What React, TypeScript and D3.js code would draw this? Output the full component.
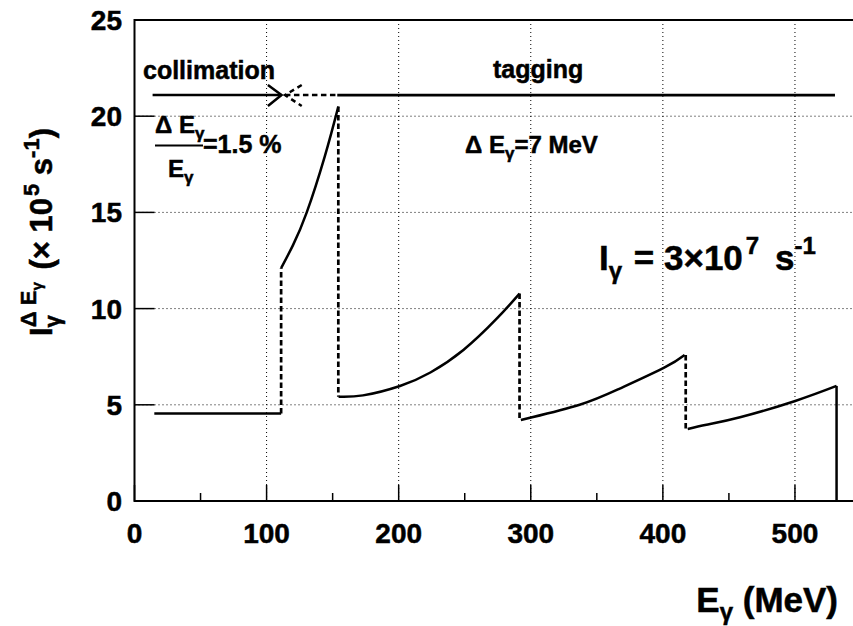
import React from 'react';
import * as d3 from 'd3';

// ---- data ----
const xTickValues = [0, 100, 200, 300, 400, 500];
const xMinorTickValues = [50, 150, 250, 350, 450];
const yTickValues = [0, 5, 10, 15, 20, 25];
const xGridValues = [100, 200, 300, 400, 500];
const yGridValues = [5, 10, 15, 20];

// collimation plateau
const flatE = [15, 111];
const flatI = [4.55, 4.55];
// tagged segments
const seg1E = [111, 120, 130.4, 144, 154.3];
const seg1I = [12.1, 13.3, 15.0, 17.9, 20.5];
const seg2E = [154.5, 173, 201, 224, 249, 274, 291.5];
const seg2I = [5.42, 5.49, 5.98, 6.68, 7.85, 9.46, 10.78];
const seg3E = [292.5, 301, 337, 367, 401, 416.5];
const seg3I = [4.21, 4.35, 5.0, 5.83, 6.93, 7.59];
const seg4E = [418.8, 433, 458.4, 500.2, 531.5];
const seg4I = [3.74, 3.96, 4.35, 5.2, 5.98];
// dashed vertical connectors
const dropE = [111, 154.3, 291.5, 417.3];
const dropFrom = [4.55, 20.5, 10.78, 7.59];
const dropTo = [12.1, 5.42, 4.21, 3.74];
// final solid drop
const endDropE = [531.5, 531.5];
const endDropI = [5.98, 0];

// collimation / tagging ranges
const tagLevel = 21.1;
const arrowE = [13.7, 111.3];
const arrowWingE = 101;
const wingHi = 21.62;
const wingLo = 20.53;
const revTipE = 113.9;
const revWingE = 126.6;
const dashedTagE = [113.9, 153.5];
const solidTagE = [153.5, 530.3];

const W = 853;
const H = 626;
const FONT = "'Liberation Sans', Arial, Helvetica, sans-serif";

export default function App() {
  const x = d3.scaleLinear().domain([0, 550]).range([134.5, 861]);
  const y = d3.scaleLinear().domain([0, 25]).range([501, 20]);
  const [x0, x1] = x.range();
  const [yB, yT] = y.range();

  const line = d3
    .line<[number, number]>()
    .x((d) => x(d[0]))
    .y((d) => y(d[1]))
    .curve(d3.curveNatural);
  const straight = d3
    .line<[number, number]>()
    .x((d) => x(d[0]))
    .y((d) => y(d[1]));

  const zip = (a: number[], b: number[]) => a.map((v, i) => [v, b[i]] as [number, number]);
  const segs = [zip(seg1E, seg1I), zip(seg2E, seg2I), zip(seg3E, seg3I), zip(seg4E, seg4I)];

  const dotted = '1 3';
  const dashed = '5.5 3';
  const txt = { stroke: '#000', strokeWidth: 0.5 };

  return (
    <svg
      width={W}
      height={H}
      style={{ position: 'absolute', left: 0, top: 0, background: '#fff' }}
      fontFamily={FONT}
      fontWeight="bold"
    >
      <rect x={0} y={0} width={W} height={H} fill="#fff" />
      {/* grid */}
      {xGridValues.map((v) => (
        <line key={'gx' + v} x1={x(v)} x2={x(v)} y1={yB} y2={yT} stroke="#000" strokeWidth={1} strokeDasharray={dotted} />
      ))}
      {yGridValues.map((v) => (
        <line key={'gy' + v} x1={x0} x2={x1} y1={y(v)} y2={y(v)} stroke="#000" strokeWidth={1} strokeDasharray={dotted} />
      ))}

      {/* frame */}
      <rect x={x0} y={yT} width={x1 - x0} height={yB - yT} fill="none" stroke="#000" strokeWidth={2} />

      {/* ticks */}
      {xTickValues.map((v) => (
        <line key={'tx' + v} x1={x(v)} x2={x(v)} y1={yB} y2={yB - 16} stroke="#000" strokeWidth={1.5} />
      ))}
      {xMinorTickValues.map((v) => (
        <line key={'mx' + v} x1={x(v)} x2={x(v)} y1={yB} y2={yB - 8} stroke="#000" strokeWidth={1.5} />
      ))}
      {yTickValues.map((v) => (
        <line key={'ty' + v} x1={x0} x2={x0 + 20} y1={y(v)} y2={y(v)} stroke="#000" strokeWidth={1.5} />
      ))}

      <g {...txt}>
        {/* tick labels */}
        {xTickValues.map((v) => (
          <text key={'lx' + v} x={x(v)} y={543} fontSize={28} textAnchor="middle">
            {v}
          </text>
        ))}
        {yTickValues.map((v) => (
          <text key={'ly' + v} x={122} y={y(v) + 10} fontSize={28} textAnchor="end">
            {v}
          </text>
        ))}
      </g>

      {/* flux curve */}
      <path d={straight(zip(flatE, flatI)) || ''} fill="none" stroke="#000" strokeWidth={2.5} />
      {segs.map((s, i) => (
        <path key={'s' + i} d={line(s) || ''} fill="none" stroke="#000" strokeWidth={2.5} />
      ))}
      {dropE.map((e, i) => (
        <line
          key={'d' + i}
          x1={x(e)}
          x2={x(e)}
          y1={y(dropFrom[i])}
          y2={y(dropTo[i])}
          stroke="#000"
          strokeWidth={2.7}
          strokeDasharray={dashed}
        />
      ))}
      <path d={straight(zip(endDropE, endDropI)) || ''} fill="none" stroke="#000" strokeWidth={2.5} />

      {/* collimation arrow */}
      <path d={straight([[arrowE[0], tagLevel], [arrowE[1], tagLevel]]) || ''} stroke="#000" strokeWidth={2.5} fill="none" />
      <path
        d={straight([[arrowWingE, wingHi], [arrowE[1], tagLevel], [arrowWingE, wingLo]]) || ''}
        stroke="#000"
        strokeWidth={2.5}
        fill="none"
      />
      <path
        d={straight([[revWingE, wingHi], [revTipE, tagLevel], [revWingE, wingLo]]) || ''}
        stroke="#000"
        strokeWidth={2.5}
        fill="none"
        strokeDasharray="5 4"
      />
      <path
        d={straight([[dashedTagE[0], tagLevel], [dashedTagE[1], tagLevel]]) || ''}
        stroke="#000"
        strokeWidth={2.5}
        fill="none"
        strokeDasharray="5.5 3.5"
      />
      <path d={straight([[solidTagE[0], tagLevel], [solidTagE[1], tagLevel]]) || ''} stroke="#000" strokeWidth={2.7} fill="none" />

      <g {...txt}>
        {/* annotations */}
        <text x={143} y={79} fontSize={25}>collimation</text>
        <text x={493} y={78} fontSize={25}>tagging</text>
        <text x={465} y={153} fontSize={24}>
          <tspan>Δ E</tspan>
          <tspan fontSize={17} dy={6}>γ</tspan>
          <tspan dy={-6}>=7 MeV</tspan>
        </text>
        <text x={155} y={133} fontSize={24}>
          <tspan>Δ E</tspan>
          <tspan fontSize={17} dy={6}>γ</tspan>
        </text>
        <text x={203} y={153} fontSize={25}>=1.5 %</text>
        <text x={168} y={177} fontSize={24}>
          <tspan>E</tspan>
          <tspan fontSize={17} dy={6}>γ</tspan>
        </text>

        <text x={599} y={270} fontSize={35}>
          <tspan>I</tspan>
          <tspan fontSize={24} dy={9}>γ</tspan>
          <tspan dx={2} dy={-9}>{' = 3×10'}</tspan>
          <tspan fontSize={24} dx={3} dy={-16}>7</tspan>
          <tspan dx={6} dy={16}>{' s'}</tspan>
          <tspan fontSize={24} dy={-16}>-1</tspan>
        </text>

        {/* axis titles */}
        <text x={838} y={612} fontSize={35} textAnchor="end">
          <tspan>E</tspan>
          <tspan fontSize={24} dy={8}>γ</tspan>
          <tspan dy={-8}>{' (MeV)'}</tspan>
        </text>
        <text transform="translate(52,336) rotate(-90)" fontSize={31}>
          <tspan>I</tspan>
          <tspan fontSize={22} dy={8}>γ</tspan>
          <tspan fontSize={22} dx={-12} dy={-24}>Δ E</tspan>
          <tspan fontSize={15} dy={6}>γ</tspan>
          <tspan dx={4} dy={10}>{' (× 10'}</tspan>
          <tspan fontSize={22} dx={2} dy={-13}>5</tspan>
          <tspan dy={13}>{' s'}</tspan>
          <tspan fontSize={22} dy={-13}>-1</tspan>
          <tspan dy={13}>)</tspan>
        </text>
      </g>
      <line x1={155} x2={203} y1={145.5} y2={145.5} stroke="#000" strokeWidth={2} />
    </svg>
  );
}
